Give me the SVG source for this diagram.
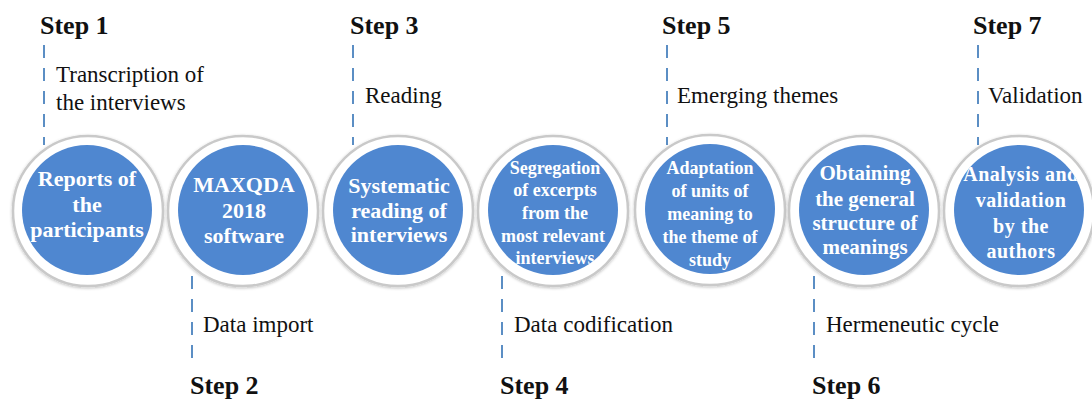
<svg xmlns="http://www.w3.org/2000/svg" width="1092" height="401" viewBox="0 0 1092 401" font-family="Liberation Serif, Times New Roman, serif">
<style>
.step{font-weight:bold;font-size:26px;fill:#111}
.desc{font-size:23px;fill:#111}
.ctext{font-weight:bold;fill:#fff;text-anchor:middle}
.big{font-size:22px}
.small{font-size:18px}
.dash{stroke:#5b8ec4;stroke-width:2;stroke-dasharray:13 10;fill:none}
.ring{fill:#fff;stroke:#c9c9c9;stroke-width:2.5;filter:url(#sh)}
.core{fill:#4f87d0}
</style>
<defs>
<filter id="sh" x="-20%" y="-20%" width="140%" height="140%">
<feGaussianBlur in="SourceAlpha" stdDeviation="1.5"/>
<feOffset dx="0" dy="1" result="b"/>
<feFlood flood-color="#000" flood-opacity="0.25"/>
<feComposite in2="b" operator="in"/>
<feMerge><feMergeNode/><feMergeNode in="SourceGraphic"/></feMerge>
</filter>
<clipPath id="c1"><circle cx="87" cy="210" r="65"/></clipPath>
<clipPath id="c2"><circle cx="243" cy="210" r="65"/></clipPath>
<clipPath id="c3"><circle cx="398" cy="210" r="65"/></clipPath>
<clipPath id="c4"><circle cx="553" cy="210" r="65"/></clipPath>
<clipPath id="c5"><circle cx="710" cy="209" r="65"/></clipPath>
<clipPath id="c6"><circle cx="864" cy="210" r="65"/></clipPath>
<clipPath id="c7"><circle cx="1019" cy="210" r="65"/></clipPath>
</defs>
<rect width="1092" height="401" fill="#fff"/>

<g id="connectors">
<line class="dash" x1="44" y1="45" x2="44" y2="145"/>
<line class="dash" x1="353" y1="45" x2="353" y2="145"/>
<line class="dash" x1="667" y1="45" x2="667" y2="145"/>
<line class="dash" x1="978" y1="45" x2="978" y2="145"/>
<line class="dash" x1="192" y1="276" x2="192" y2="362"/>
<line class="dash" x1="502" y1="276" x2="502" y2="362"/>
<line class="dash" x1="814" y1="276" x2="814" y2="362"/>
</g>

<g id="labels" font-family="Liberation Serif, Times New Roman, serif">
<text class="step" x="40" y="34">Step 1</text>
<text class="step" x="350" y="34">Step 3</text>
<text class="step" x="662" y="34">Step 5</text>
<text class="step" x="973" y="34">Step 7</text>
<text class="step" x="190" y="394">Step 2</text>
<text class="step" x="500" y="394">Step 4</text>
<text class="step" x="812" y="394">Step 6</text>
<text class="desc" x="56" y="82">Transcription of</text>
<text class="desc" x="56" y="110">the interviews</text>
<text class="desc" x="365" y="103">Reading</text>
<text class="desc" x="677" y="103">Emerging themes</text>
<text class="desc" x="988" y="103">Validation</text>
<text class="desc" x="203" y="332">Data import</text>
<text class="desc" x="514" y="332">Data codification</text>
<text class="desc" x="826" y="332">Hermeneutic cycle</text>
</g>

<g id="node1" font-family="Liberation Serif, Times New Roman, serif">
<circle class="ring" cx="88" cy="211" r="75"/>
<circle class="core" cx="87" cy="210" r="65"/>
<g clip-path="url(#c1)" class="ctext big">
<text x="87" y="186">Reports of</text>
<text x="87" y="212">the</text>
<text x="87" y="237">participants</text>
</g>
</g>

<g id="node2" font-family="Liberation Serif, Times New Roman, serif">
<circle class="ring" cx="243" cy="211" r="75"/>
<circle class="core" cx="243" cy="210" r="65"/>
<g clip-path="url(#c2)" class="ctext big">
<text x="244" y="192">MAXQDA</text>
<text x="244" y="218">2018</text>
<text x="244" y="243">software</text>
</g>
</g>

<g id="node3" font-family="Liberation Serif, Times New Roman, serif">
<circle class="ring" cx="398" cy="211" r="75"/>
<circle class="core" cx="398" cy="210" r="65"/>
<g clip-path="url(#c3)" class="ctext big">
<text x="399" y="193">Systematic</text>
<text x="399" y="218">reading of</text>
<text x="399" y="242">interviews</text>
</g>
</g>

<g id="node4" font-family="Liberation Serif, Times New Roman, serif">
<circle class="ring" cx="553" cy="211" r="75"/>
<circle class="core" cx="553" cy="210" r="65"/>
<g clip-path="url(#c4)" class="ctext small">
<text x="555" y="174">Segregation</text>
<text x="555" y="196">of excerpts</text>
<text x="555" y="219">from the</text>
<text x="553" y="242">most relevant</text>
<text x="555" y="264">interviews</text>
</g>
</g>

<g id="node5" font-family="Liberation Serif, Times New Roman, serif">
<circle class="ring" cx="710" cy="210" r="75"/>
<circle class="core" cx="710" cy="209" r="65"/>
<g clip-path="url(#c5)" class="ctext small">
<text x="710" y="174">Adaptation</text>
<text x="710" y="197">of units of</text>
<text x="710" y="220">meaning to</text>
<text x="710" y="243">the theme of</text>
<text x="710" y="266">study</text>
</g>
</g>

<g id="node6" font-family="Liberation Serif, Times New Roman, serif">
<circle class="ring" cx="864" cy="211" r="75"/>
<circle class="core" cx="864" cy="210" r="65"/>
<g clip-path="url(#c6)" class="ctext" font-size="21">
<text x="865" y="180">Obtaining</text>
<text x="865" y="206">the general</text>
<text x="865" y="230">structure of</text>
<text x="865" y="254">meanings</text>
</g>
</g>

<g id="node7" font-family="Liberation Serif, Times New Roman, serif">
<circle class="ring" cx="1019" cy="211" r="75"/>
<circle class="core" cx="1019" cy="210" r="65"/>
<g clip-path="url(#c7)" class="ctext" font-size="20" letter-spacing="0.5">
<text x="1021" y="181">Analysis and</text>
<text x="1021" y="207">validation</text>
<text x="1021" y="233">by the</text>
<text x="1021" y="258">authors</text>
</g>
</g>
</svg>
